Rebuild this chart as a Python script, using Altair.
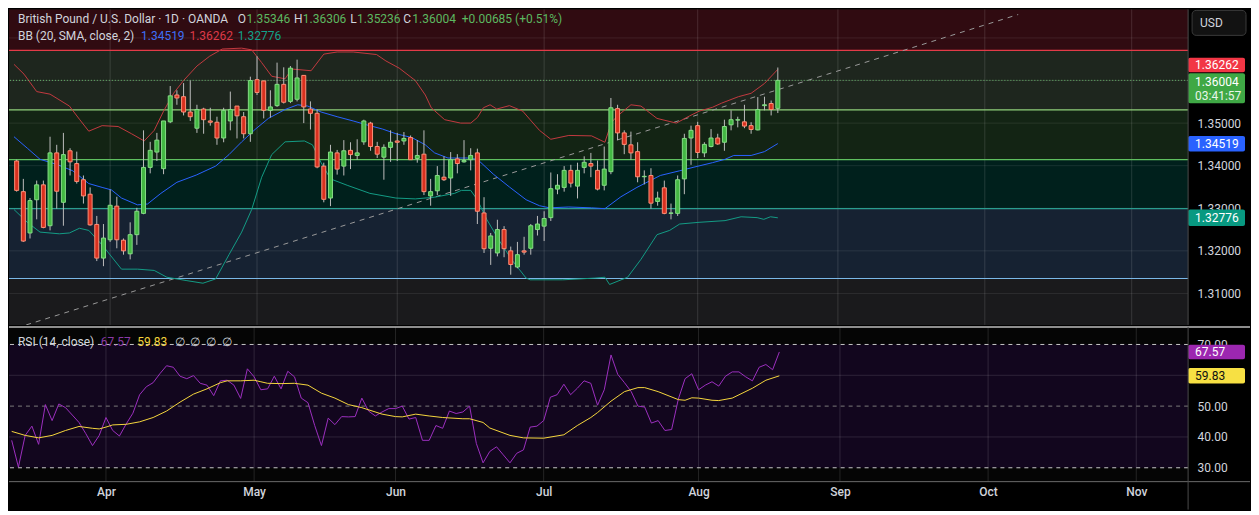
import altair as alt
import pandas as pd

# ---------------- data ----------------
open_ = [1.3411,1.3339,1.3242,1.3320,1.3355,1.3259,1.3430,1.3314,1.3435,1.3405,
         1.3367,1.3333,1.3262,1.3183,1.3226,1.3305,1.3225,1.3193,1.3238,1.3288,
         1.3396,1.3432,1.3393,1.3503,1.3566,1.3562,1.3526,1.3488,1.3533,1.3505,
         1.3502,1.3465,1.3505,1.3540,1.3515,1.3475,1.3602,1.3599,1.3530,1.3541,
         1.3591,1.3551,1.3556,1.3612,1.3533,1.3523,1.3399,1.3324,1.3430,1.3399,
         1.3436,1.3424,1.3456,1.3500,1.3445,1.3420,1.3443,1.3458,1.3458,1.3466,
         1.3417,1.3427,1.3329,1.3341,1.3373,1.3371,1.3416,1.3409,1.3414,1.3430,
         1.3289,1.3206,1.3195,1.3250,1.3200,1.3162,1.3200,1.3206,1.3250,1.3258,
         1.3278,1.3345,1.3349,1.3389,1.3352,1.3396,1.3405,1.3389,1.3354,1.3386,
         1.3534,1.3477,1.3449,1.3433,1.3374,1.3377,1.3316,1.3348,1.3288,1.3288,
         1.3369,1.3465,1.3494,1.3430,1.3445,1.3465,1.3455,1.3496,1.3507,1.3503,
         1.3494,1.3484,1.3541,1.3546,1.35346]
high = [1.3414,1.3369,1.3324,1.3365,1.3365,1.3468,1.3449,1.3477,1.3441,1.3433,
        1.3377,1.3349,1.3282,1.3263,1.3344,1.3327,1.3229,1.3267,1.3301,1.3483,
        1.3456,1.3477,1.3505,1.3587,1.3577,1.3594,1.3600,1.3543,1.3536,1.3536,
        1.3515,1.3536,1.3574,1.3540,1.3526,1.3609,1.3657,1.3600,1.3577,1.3642,
        1.3631,1.3634,1.3649,1.3612,1.3551,1.3532,1.3407,1.3449,1.3437,1.3460,
        1.3455,1.3462,1.3508,1.3503,1.3456,1.3450,1.3483,1.3477,1.3479,1.3471,
        1.3460,1.3483,1.3369,1.3399,1.3422,1.3432,1.3427,1.3460,1.3441,1.3440,
        1.3326,1.3242,1.3273,1.3258,1.3210,1.3221,1.3233,1.3263,1.3282,1.3293,
        1.3384,1.3380,1.3399,1.3402,1.3407,1.3422,1.3430,1.3412,1.3445,1.3559,
        1.3543,1.3483,1.3480,1.3455,1.3389,1.3394,1.3339,1.3365,1.3311,1.3377,
        1.3475,1.3494,1.3503,1.3455,1.3486,1.3475,1.3508,1.3530,1.3515,1.3543,
        1.3502,1.3561,1.3562,1.3553,1.36306]
low = [1.3339,1.3221,1.3229,1.3274,1.3253,1.3248,1.3299,1.3259,1.3377,1.3358,
       1.3311,1.3259,1.3176,1.3164,1.3221,1.3206,1.3191,1.3180,1.3214,1.3286,
       1.3382,1.3411,1.3380,1.3500,1.3543,1.3518,1.3505,1.3477,1.3475,1.3494,
       1.3449,1.3455,1.3483,1.3464,1.3464,1.3456,1.3566,1.3511,1.3513,1.3538,
       1.3546,1.3547,1.3551,1.3500,1.3485,1.3394,1.3314,1.3305,1.3379,1.3377,
       1.3392,1.3414,1.3449,1.3435,1.3418,1.3367,1.3409,1.3411,1.3449,1.3414,
       1.3407,1.3331,1.3306,1.3331,1.3364,1.3329,1.3382,1.3407,1.3389,1.3263,
       1.3195,1.3167,1.3187,1.3185,1.3144,1.3159,1.3191,1.3191,1.3236,1.3223,
       1.3270,1.3333,1.3339,1.3349,1.3323,1.3382,1.3373,1.3342,1.3342,1.3380,
       1.3460,1.3427,1.3414,1.3361,1.3356,1.3299,1.3306,1.3286,1.3274,1.3282,
       1.3333,1.3402,1.3418,1.3420,1.3443,1.3449,1.3435,1.3483,1.3490,1.3488,
       1.3475,1.3483,1.3530,1.3518,1.35236]
close = [1.3342,1.3223,1.3318,1.3355,1.3255,1.3430,1.3340,1.3426,1.3409,1.3363,
         1.3329,1.3261,1.3183,1.3230,1.3307,1.3226,1.3200,1.3238,1.3293,1.3396,
         1.3436,1.3460,1.3505,1.3564,1.3559,1.3526,1.3515,1.3532,1.3508,1.3502,
         1.3465,1.3530,1.3532,1.3517,1.3475,1.3600,1.3572,1.3530,1.3538,1.3591,
         1.3549,1.3629,1.3606,1.3538,1.3523,1.3397,1.3321,1.3432,1.3392,1.3435,
         1.3426,1.3430,1.3505,1.3445,1.3427,1.3443,1.3455,1.3455,1.3464,1.3414,
         1.3424,1.3339,1.3339,1.3377,1.3367,1.3414,1.3405,1.3412,1.3424,1.3293,
         1.3205,1.3235,1.3250,1.3205,1.3168,1.3191,1.3197,1.3259,1.3263,1.3276,
         1.3346,1.3354,1.3389,1.3359,1.3389,1.3408,1.3399,1.3345,1.3392,1.3536,
         1.3477,1.3450,1.3430,1.3374,1.3375,1.3312,1.3324,1.3288,1.3289,1.3367,
         1.3464,1.3483,1.3431,1.3450,1.3465,1.3451,1.3492,1.3508,1.3508,1.3493,
         1.3485,1.3532,1.3543,1.35319,1.36004]

rsi = [38.9,30.2,40.5,43.5,37.6,50.5,45.3,50.7,49.5,47.1,
       44.7,41.1,37.2,40.5,46.3,42.1,40.3,44.2,47.7,53.7,
       56.3,57.6,60.5,63.1,62.6,59.7,58.9,59.9,57.4,56.8,
       53.4,58.2,58.4,56.8,52.5,62.1,59.5,55.3,55.6,59.7,
       55.6,61.3,59.5,52.6,51.1,43.7,37.2,46.1,44.0,46.6,
       46.5,46.6,52.6,48.4,46.8,48.1,49.2,49.2,50.0,45.8,
       46.3,38.9,38.9,43.7,42.8,48.4,47.6,48.1,50.0,37.9,
       31.6,35.3,36.8,34.2,31.6,34.7,35.8,43.2,43.5,45.3,
       52.9,53.7,57.1,53.7,55.8,58.2,57.4,50.3,55.3,66.6,
       60.3,57.6,54.7,50.0,49.7,44.5,45.3,42.1,42.4,52.3,
       58.9,60.5,55.3,56.8,57.9,56.5,59.7,61.1,61.1,59.5,
       58.2,62.6,63.5,61.8,67.57]

rsi_ma_bar = [0,2,4,6,8,10,12,13,14,15,17,19,21,23,25,27,29,31,32,34,36,37,38,40,42,44,46,48,50,52,
              55,57,58,60,62,64,67,68,70,71,74,76,79,82,84,86,87,89,91,93,94,96,99,100,101,102,104,105,
              107,110,112,114]
rsi_ma = [41.8,40.5,39.7,40.5,42.1,43.4,42.8,42.6,43.2,43.9,44.1,44.9,46.3,48.4,51.3,53.9,55.6,57.6,58.2,58.2,
          58.4,57.9,57.4,57.3,57.4,56.8,54.2,52.6,50.5,49.5,47.4,46.6,46.5,47.4,46.8,46.3,45.9,45.9,44.7,42.9,
          40.5,39.7,39.6,40.7,43.7,46.3,47.9,51.6,54.7,56.0,56.0,54.7,52.1,51.9,52.7,52.6,51.9,51.8,
          52.6,55.8,58.4,59.83]

bb_up_bar = [-0.4,1.1,3.0,5.0,7.9,9.4,10.8,12.8,15.2,17.2,19.1,20.6,22.0,23.5,25.0,27.0,28.9,30.8,33.7,35.2,
             36.7,38.2,40.2,41.2,44.1,46.0,48.0,50.4,53.9,55.3,57.3,59.7,61.2,62.1,64.1,66.5,68.0,69.0,69.9,70.9,
             71.9,73.8,75.8,76.9,78.3,80.0,82.7,86.1,88.1,89.1,90.0,92.0,93.5,95.9,98.8,100.8,102.2,104.2,105.6,108.1,
             110.0,112.0,114.0]
bb_up = [1.3638,1.3615,1.3574,1.3568,1.3540,1.3509,1.3481,1.3494,1.3492,1.3475,1.3458,1.3483,1.3528,1.3570,1.3600,1.3634,1.3657,1.3674,1.3676,1.3672,
         1.3642,1.3610,1.3604,1.3627,1.3623,1.3662,1.3667,1.3667,1.3661,1.3646,1.3629,1.3600,1.3566,1.3536,1.3508,1.3500,1.3500,1.3513,1.3536,1.3543,
         1.3533,1.3541,1.3528,1.3508,1.3483,1.3462,1.3471,1.3470,1.3455,1.3502,1.3517,1.3543,1.3540,1.3511,1.3500,1.3517,1.3528,1.3537,1.3547,1.3562,
         1.3570,1.3593,1.36262]
bb_mid_bar = [-0.4,1.6,3.5,6.0,8.4,10.8,12.8,14.2,15.7,18.1,19.6,21.6,24.0,26.9,29.8,31.8,33.7,35.7,37.7,40.2,
              42.1,43.6,45.6,48.0,50.4,52.4,54.8,56.8,59.2,61.2,62.6,64.6,67.5,69.0,71.4,73.8,76.3,78.3,79.8,82.7,
              86.1,88.1,90.5,92.9,96.4,99.3,101.3,104.2,106.1,107.4,110.0,112.0,114.0]
bb_mid = [1.3468,1.3441,1.3415,1.3403,1.3388,1.3358,1.3349,1.3343,1.3324,1.3308,1.3310,1.3335,1.3361,1.3378,1.3399,1.3426,1.3456,1.3485,1.3511,1.3532,
          1.3543,1.3540,1.3526,1.3515,1.3505,1.3496,1.3486,1.3475,1.3466,1.3449,1.3430,1.3418,1.3418,1.3415,1.3380,1.3350,1.3320,1.3306,1.3301,1.3303,
          1.3301,1.3299,1.3327,1.3349,1.3377,1.3388,1.3396,1.3407,1.3415,1.3424,1.3424,1.3433,1.34519]
bb_low_bar = [-0.4,1.6,3.5,6.4,7.9,9.4,10.8,12.8,15.7,18.1,20.6,22.5,25.5,27.9,29.8,31.8,33.7,35.2,36.7,38.2,
              40.2,43.1,44.3,45.6,47.0,49.5,52.9,56.8,59.7,62.6,65.6,66.6,68.0,69.0,70.4,72.4,74.3,76.3,76.9,81.8,
              86.6,88.1,88.8,91.5,93.5,95.9,97.8,99.3,102.2,106.1,108.5,110.9,111.9,112.9,114.0]
bb_low = [1.3297,1.3267,1.3244,1.3240,1.3242,1.3253,1.3248,1.3214,1.3157,1.3157,1.3154,1.3138,1.3130,1.3124,1.3134,1.3191,1.3244,1.3297,1.3373,1.3426,
          1.3456,1.3458,1.3449,1.3407,1.3369,1.3354,1.3335,1.3324,1.3322,1.3326,1.3335,1.3342,1.3342,1.3320,1.3274,1.3221,1.3176,1.3136,1.3132,1.3132,
          1.3136,1.3138,1.3121,1.3138,1.3180,1.3238,1.3248,1.3263,1.3267,1.3271,1.3280,1.3278,1.3274,1.3280,1.32776]

month_names = ["Apr", "May", "Jun", "Jul", "Aug", "Sep", "Oct", "Nov"]
month_bar = [14, 36, 57, 79, 102, 123, 145, 167]
price_ticks = [1.31, 1.32, 1.33, 1.34, 1.35, 1.36]
price_grid = [1.31, 1.32, 1.33, 1.34, 1.35, 1.36, 1.37]
rsi_ticks = [30, 40, 50, 60, 70]

zone_top = [1.3767, 1.3671, 1.3531, 1.3414, 1.3299]
zone_bottom = [1.3671, 1.3531, 1.3414, 1.3299, 1.3135]
zone_fill = ["#300b11", "#1e261e", "#132414", "#00201c", "#162232"]
zone_level = [1.3671, 1.3531, 1.3414, 1.3299, 1.3135]
zone_line = ["#e23b48", "#8fcf7a", "#5fbf60", "#2a9d8f", "#7ab8e8"]

trend_bar = [0, 150]
trend_price = [1.3019, 1.3755]
last_price = 1.36004

# ---------------- layout ----------------
W, HM, HR, AX, XH = 1181, 316, 155, 62, 28
XDOM = [-0.4, 174.7]
PDOM = [1.30261, 1.37670]
RDOM = [25.5, 75.7]
FONT = "Roboto"
LBL = "#d1d4dc"

xs = alt.Scale(domain=XDOM, nice=False, zero=False)
ps = alt.Scale(domain=PDOM, nice=False, zero=False)
rs = alt.Scale(domain=RDOM, nice=False, zero=False)
one = pd.DataFrame({"a": [0]})

p_axis = alt.Axis(orient="right", values=price_ticks, format=".5f", labelColor=LBL, labelFont=FONT,
                  labelFontSize=12, ticks=False, grid=False, domain=False,
                  labelPadding=9, minExtent=AX, maxExtent=AX, title=None, labelAlign="left")
r_axis = alt.Axis(orient="right", values=rsi_ticks, format=".2f", labelColor=LBL, labelFont=FONT,
                  labelFontSize=12, ticks=False, grid=False, domain=False,
                  labelPadding=9, minExtent=AX, maxExtent=AX, title=None, labelAlign="left")
names_js = "[" + ",".join("'%s'" % m for m in month_names) + "]"
bars_js = "[" + ",".join(str(b) for b in month_bar) + "]"
x_axis = alt.Axis(orient="bottom", values=month_bar, labelExpr=names_js + "[indexof(" + bars_js + ", datum.value)]",
                  labelColor=LBL, labelFont=FONT, labelFontSize=12, labelFontWeight=500, ticks=False, grid=False,
                  domain=False, labelPadding=5, minExtent=XH, maxExtent=XH,
                  title=None, labelFlush=False)


def PY(f):
    return alt.Y(f, type="quantitative", scale=ps, axis=p_axis)


def RY(f):
    return alt.Y(f, type="quantitative", scale=rs, axis=r_axis)


def MX(f):
    return alt.X(f, type="quantitative", scale=xs, axis=None)


def RX(f):
    return alt.X(f, type="quantitative", scale=xs, axis=x_axis)


def txt(s, x, y, color, size=12, align="left", weight="normal"):
    return alt.Chart(one).mark_text(text=s, align=align, baseline="middle", font=FONT, fontSize=size,
                                    color=color, fontWeight=weight).encode(x=alt.value(x), y=alt.value(y))


def tag(p, Y, fill, o1, o2):
    d = pd.DataFrame({"p": [p]})
    return alt.Chart(d).mark_rect(fill=fill, cornerRadius=2, yOffset=o1, y2Offset=o2).encode(
        x=alt.value(W), x2=alt.value(W + 57), y=Y("p"), y2="p:Q")


def tagtext(p, Y, s, color, dy):
    d = pd.DataFrame({"p": [p]})
    return alt.Chart(d).mark_text(text=s, align="left", baseline="middle", font=FONT, fontSize=12,
                                  color=color, dy=dy).encode(x=alt.value(W + 7), y=Y("p"))


# ---------------- main price panel ----------------
candles = pd.DataFrame({"bar": list(range(len(close))), "o": open_, "h": high, "l": low, "c": close})
candles["fill"] = ["#43b843" if c >= o else "#d9301f" for o, c in zip(open_, close)]
candles["edge"] = ["#86dd86" if c >= o else "#ff8f76" for o, c in zip(open_, close)]

bg = alt.Chart(pd.DataFrame({"lo": [PDOM[0]], "hi": [PDOM[1]]})).mark_rect(fill="#1a1a1c").encode(
    x=alt.value(0), x2=alt.value(W), y=PY("lo"), y2="hi:Q")

zones = alt.Chart(pd.DataFrame({"t": zone_top, "b": zone_bottom, "f": zone_fill})).mark_rect().encode(
    x=alt.value(0), x2=alt.value(W), y=PY("t"), y2="b:Q", fill=alt.Fill("f:N", scale=None))

hgrid = alt.Chart(pd.DataFrame({"p": price_grid})).mark_rule(color="#ffffff", opacity=0.09).encode(y=PY("p"))
vgrid = alt.Chart(pd.DataFrame({"bar": month_bar})).mark_rule(color="#ffffff", opacity=0.13).encode(x=MX("bar"))

zlines = alt.Chart(pd.DataFrame({"p": zone_level, "c": zone_line})).mark_rule(strokeWidth=1.2).encode(
    y=PY("p"), color=alt.Color("c:N", scale=None))

trend = alt.Chart(pd.DataFrame({"bar": trend_bar, "p": trend_price})).mark_line(
    color="#9a9a9a", strokeDash=[5, 5], strokeWidth=1, clip=True).encode(x=MX("bar"), y=PY("p"))


def bb_line(bars, vals, color):
    return alt.Chart(pd.DataFrame({"bar": bars, "p": vals})).mark_line(color=color, strokeWidth=1).encode(
        x=MX("bar"), y=PY("p"))


bb_u = bb_line(bb_up_bar, bb_up, "#c2393f")
bb_m = bb_line(bb_mid_bar, bb_mid, "#2962ff")
bb_l = bb_line(bb_low_bar, bb_low, "#139c85")

pline = alt.Chart(pd.DataFrame({"p": [last_price]})).mark_rule(
    color="#66b86a", strokeDash=[1, 2], strokeWidth=1).encode(y=PY("p"))

wicks = alt.Chart(candles).mark_rule(color="#bdbdbd", strokeWidth=1).encode(
    x=MX("bar"), y=PY("l"), y2="h:Q")
bodies = alt.Chart(candles).mark_bar(size=4, strokeWidth=1).encode(
    x=MX("bar"), y=PY("o"), y2="c:Q",
    fill=alt.Fill("fill:N", scale=None), stroke=alt.Stroke("edge:N", scale=None))

tags_main = [
    tag(1.36262, PY, "#f23645", -11.7, 2.9), tagtext(1.36262, PY, "1.36262", "#ffffff", -4.4),
    tag(last_price, PY, "#3fa845", -7.1, 23), tagtext(last_price, PY, "1.36004", "#ffffff", 1.4),
    tagtext(last_price, PY, "03:41:57", "#e8f5e9", 15.2),
    tag(1.34519, PY, "#2962ff", -7.5, 8), tagtext(1.34519, PY, "1.34519", "#ffffff", 0.3),
    tag(1.32776, PY, "#089981", -8.2, 8.2), tagtext(1.32776, PY, "1.32776", "#ffffff", 0),
]

usd_box = alt.Chart(one).mark_rect(fill="#121212", stroke="#3a3a3a", cornerRadius=4).encode(
    x=alt.value(W + 4), x2=alt.value(W + 58), y=alt.value(1), y2=alt.value(26))
usd_txt = txt("USD", W + 12, 13.5, LBL, 12)

GREEN = "#5cb860"
HF = 12
header = [
    txt("British Pound / U.S. Dollar · 1D · OANDA", 9, 9.7, LBL, HF),
    txt("O", 229, 9.7, LBL, HF), txt("1.35346", 238, 9.7, GREEN, HF),
    txt("H", 285.4, 9.7, LBL, HF), txt("1.36306", 294.3, 9.7, GREEN, HF),
    txt("L", 341.7, 9.7, LBL, HF), txt("1.35236", 348.6, 9.7, GREEN, HF),
    txt("C", 395, 9.7, LBL, HF), txt("1.36004", 404, 9.7, GREEN, HF),
    txt("+0.00685 (+0.51%)", 453.5, 9.7, GREEN, HF),
    txt("BB (20, SMA, close, 2)", 9, 26.2, LBL, HF),
    txt("1.34519", 132.3, 26.2, "#3d6ff5", HF),
    txt("1.36262", 180.7, 26.2, "#dd3a48", HF),
    txt("1.32776", 229, 26.2, "#12a08a", HF),
]

sep_v_main = alt.Chart(one).mark_rule(color="#4a4a4a").encode(
    x=alt.value(W), y=alt.value(0), y2=alt.value(HM))

main = alt.layer(bg, zones, hgrid, vgrid, zlines, trend, bb_u, bb_m, bb_l, pline, wicks, bodies,
                 *tags_main, usd_box, usd_txt, *header, sep_v_main).properties(width=W, height=HM)

# ---------------- RSI panel ----------------
rbg = alt.Chart(pd.DataFrame({"lo": [RDOM[0]], "hi": [RDOM[1]]})).mark_rect(fill="#050505").encode(
    x=alt.value(0), x2=alt.value(W), y=RY("lo"), y2="hi:Q")
rband = alt.Chart(pd.DataFrame({"lo": [30], "hi": [70]})).mark_rect(fill="#12061e").encode(
    x=alt.value(0), x2=alt.value(W), y=RY("lo"), y2="hi:Q")
rvgrid = alt.Chart(pd.DataFrame({"bar": month_bar})).mark_rule(color="#ffffff", opacity=0.13).encode(x=RX("bar"))
rhgrid = alt.Chart(pd.DataFrame({"v": [40, 60]})).mark_rule(color="#ffffff", opacity=0.12).encode(y=RY("v"))
rdash = alt.Chart(pd.DataFrame({"v": [70, 30]})).mark_rule(color="#c8c8c8", strokeDash=[4, 4]).encode(y=RY("v"))
rdash50 = alt.Chart(pd.DataFrame({"v": [50]})).mark_rule(color="#7a7a7a", strokeDash=[4, 4]).encode(y=RY("v"))
rsi_df = pd.DataFrame({"bar": list(range(len(rsi))), "v": rsi})
rline = alt.Chart(rsi_df).mark_line(color="#9c2fbf", strokeWidth=1).encode(x=RX("bar"), y=RY("v"))
maline = alt.Chart(pd.DataFrame({"bar": rsi_ma_bar, "v": rsi_ma})).mark_line(
    color="#f5d63d", strokeWidth=1).encode(x=RX("bar"), y=RY("v"))

tags_rsi = [
    tag(67.57, RY, "#9c27b0", -7.3, 7.3), tagtext(67.57, RY, "67.57", "#ffffff", 0),
    tag(59.83, RY, "#f7e043", -7.8, 7.8), tagtext(59.83, RY, "59.83", "#111111", 0),
]
rsi_header = [
    txt("RSI (14, close)", 9, 15.6, LBL, HF),
    txt("67.57", 91.8, 15.6, "#8a3aa6", HF),
    txt("59.83", 128.4, 15.6, "#f3d23c", HF),
    txt("∅", 166, 15.6, LBL, HF), txt("∅", 181.7, 15.6, LBL, HF),
    txt("∅", 197.5, 15.6, LBL, HF), txt("∅", 213.3, 15.6, LBL, HF),
]
sep_top = alt.Chart(one).mark_rule(color="#bdbdbd", strokeWidth=1.5).encode(
    x=alt.value(0), x2=alt.value(W + AX), y=alt.value(0))
sep_bot = alt.Chart(one).mark_rule(color="#6a6a6a").encode(
    x=alt.value(0), x2=alt.value(W + AX), y=alt.value(HR))
sep_v = alt.Chart(one).mark_rule(color="#4a4a4a").encode(
    x=alt.value(W), y=alt.value(0), y2=alt.value(HR + XH))

rsi_chart = alt.layer(rbg, rband, rvgrid, rhgrid, rdash, rdash50, rline, maline, *tags_rsi,
                      *rsi_header, sep_top, sep_bot, sep_v).properties(width=W, height=HR)

chart = alt.vconcat(main, rsi_chart, spacing=0).properties(
    background="#000000", padding=0).configure_view(strokeWidth=0).configure_concat(spacing=0)

chart.save("out.html", embed_options={"renderer": "svg", "actions": False})
